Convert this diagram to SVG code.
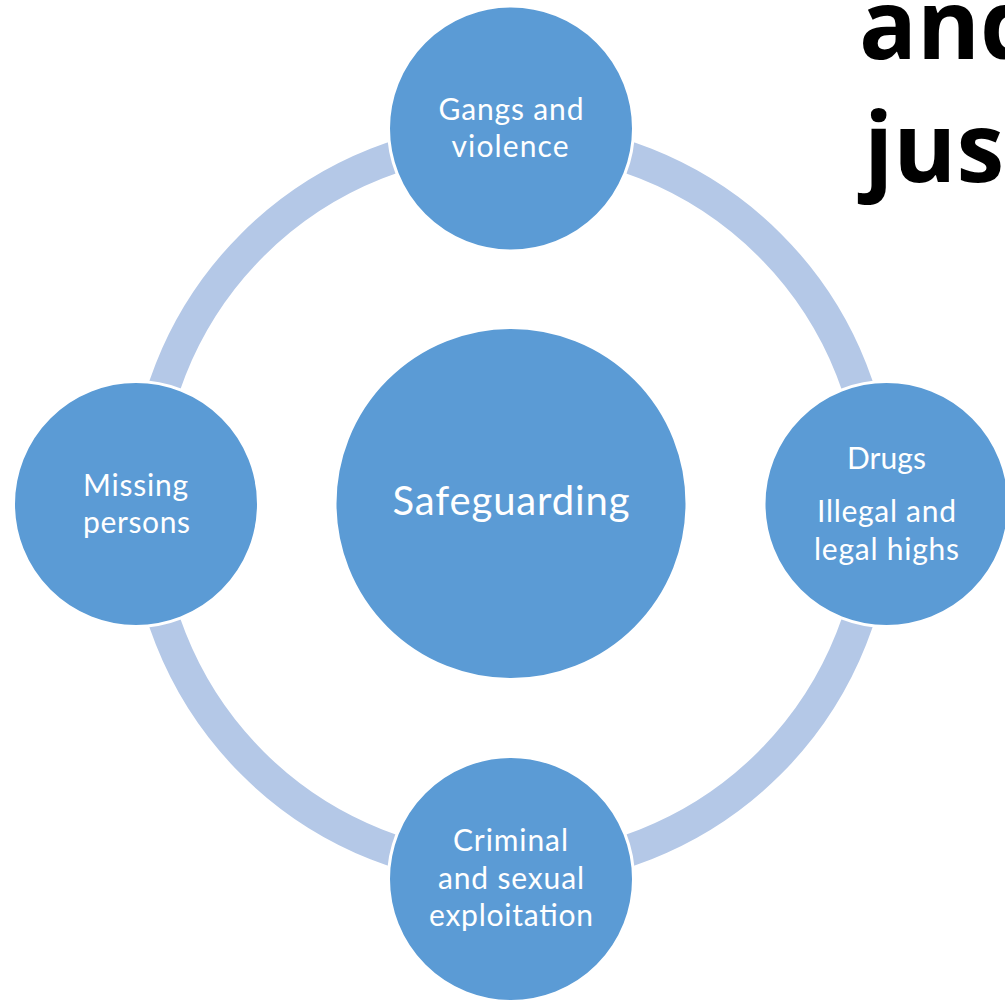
<svg xmlns="http://www.w3.org/2000/svg" width="1005" height="1000" viewBox="0 0 1005 1000">
<style>
.ring{fill:none;stroke:#B4C8E7;stroke-width:32}
.node{fill:#5B9BD5;stroke:#FFFFFF;stroke-width:3}
.lbl{font-family:Lato,"Open Sans","Liberation Sans",sans-serif;font-size:30px;fill:#FFFFFF;text-anchor:middle}
.big{font-size:40px}
.title{font-family:"Open Sans","Liberation Sans",sans-serif;font-weight:bold;font-size:96px;fill:#000000}
</style>
<rect x="0" y="0" width="1005" height="1000" fill="#FFFFFF"/>
<g id="title">
<text class="title" x="859" y="59">and</text>
<text class="title" x="864" y="182">just</text>
</g>
<g id="connectors">
<circle class="ring" cx="511" cy="504" r="366"/>
</g>
<g id="node-center">
<circle class="node" cx="511" cy="503.5" r="176"/>
<text class="lbl big" x="511" y="515" textLength="237">Safeguarding</text>
</g>
<g id="node-top">
<circle class="node" cx="511" cy="128.5" r="122.5"/>
<text class="lbl" x="511" y="120" textLength="145">Gangs and</text>
<text class="lbl" x="510" y="157" textLength="117">violence</text>
</g>
<g id="node-right">
<circle class="node" cx="886.5" cy="504" r="122.5"/>
<text class="lbl" x="886.5" y="469" textLength="79">Drugs</text>
<text class="lbl" x="886.5" y="522" textLength="139">Illegal and</text>
<text class="lbl" x="886.5" y="559.5" textLength="145">legal highs</text>
</g>
<g id="node-bottom">
<circle class="node" cx="511" cy="879" r="122.5"/>
<text class="lbl" x="510.5" y="851" textLength="115">Criminal</text>
<text class="lbl" x="511" y="889" textLength="146">and sexual</text>
<text class="lbl" x="511" y="926" textLength="164">exploitation</text>
</g>
<g id="node-left">
<circle class="node" cx="136" cy="504" r="122.5"/>
<text class="lbl" x="135.5" y="495.5" textLength="105">Missing</text>
<text class="lbl" x="136.5" y="533" textLength="107">persons</text>
</g>
</svg>
